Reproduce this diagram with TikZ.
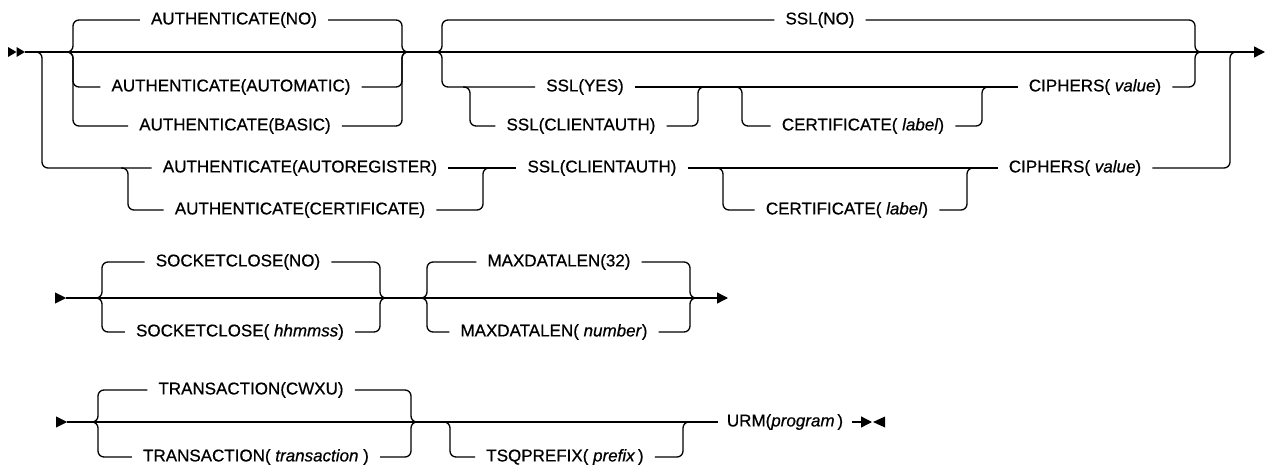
\documentclass[tikz,border=0pt]{standalone}
\usepackage{fontspec}
\setmainfont{Liberation Sans}[FakeBold=0.6]
\usetikzlibrary{arrows.meta}

\begin{document}
\begin{tikzpicture}[x=1pt, y=-1pt,
  rail/.style={line width=1.3pt, rounded corners=6pt},
  kw/.style={font=\fontsize{17}{20}\selectfont, inner xsep=11pt, inner ysep=0pt},
  tip/.style={-{Triangle[length=11pt,width=11pt]}}]
  \useasboundingbox (0,0) rectangle (1269,466);

  % row 1: AUTHENTICATE and SSL
  \fill (8,47) -- (16.5,52) -- (8,57) -- cycle;
  \fill (16.5,47) -- (25,52) -- (16.5,57) -- cycle;
  \coordinate (a0) at (25,52);
  \coordinate (a1) at (1265,52);
  \draw[rail,tip] (a0) -- (a1);

  \node[kw] (auNO)   at (234,20)  {AUTHENTICATE(NO)};
  \node[kw] (auAUTO) at (231,87)  {AUTHENTICATE(AUTOMATIC)};
  \node[kw] (auBAS)  at (235,126) {AUTHENTICATE(BASIC)};
  \node[kw] (auREG)  at (300,168) {AUTHENTICATE(AUTOREGISTER)};
  \node[kw] (auCERT) at (300,210) {AUTHENTICATE(CERTIFICATE)};

  \node[kw] (sslNO)  at (820,20)  {SSL(NO)};
  \node[kw] (sslYES) at (585,87)  {SSL(YES)};
  \node[kw] (sslCA)  at (581,126) {SSL(CLIENTAUTH)};
  \node[kw] (certA)  at (863,126) {CERTIFICATE( \textit{label}\/)};
  \node[kw] (cipA)   at (1095,87) {CIPHERS( \textit{value}\/)};
  \node[kw] (sslCB)  at (602,168) {SSL(CLIENTAUTH)};
  \node[kw] (certB)  at (847,210) {CERTIFICATE( \textit{label}\/)};
  \node[kw] (cipB)   at (1075,168) {CIPHERS( \textit{value}\/)};

  % authenticate choice
  \draw[rail] (66,52) -| (73,20) -- (auNO.west);
  \draw[rail] (auNO.east) -| (402,52) -- (409,52);
  \draw[rail] (66,52) -| (73,87) -- (auAUTO.west);
  \draw[rail] (auAUTO.east) -| (402,52) -- (409,52);
  \draw[rail] (66,52) -| (73,126) -- (auBAS.west);
  \draw[rail] (auBAS.east) -| (402,52) -- (409,52);

  % ssl choice
  \draw[rail] (435,52) -| (442,20) -- (sslNO.west);
  \draw[rail] (sslNO.east) -| (1195,52) -- (1202,52);
  \draw[rail] (435,52) -| (442,87) -- (sslYES.west);
  \draw[rail] (sslYES.east) -- (cipA.west);
  \draw[rail] (463,87) -| (470,126) -- (sslCA.west);
  \draw[rail] (sslCA.east) -| (698,87) -- (705,87);
  \draw[rail] (735,87) -| (742,126) -- (certA.west);
  \draw[rail] (certA.east) -| (982,87) -- (989,87);
  \draw[rail] (cipA.east) -| (1195,52) -- (1202,52);

  % lower branch
  \draw[rail] (35,52) -| (42,168) -- (auREG.west);
  \draw[rail] (auREG.east) -- (sslCB.west);
  \draw[rail] (121,168) -| (128,210) -- (auCERT.west);
  \draw[rail] (auCERT.east) -| (483,168) -- (490,168);
  \draw[rail] (sslCB.east) -- (cipB.west);
  \draw[rail] (716,168) -| (723,210) -- (certB.west);
  \draw[rail] (certB.east) -| (967,168) -- (974,168);
  \draw[rail] (cipB.east) -| (1230,52) -- (1237,52);

  % row 2: SOCKETCLOSE and MAXDATALEN
  \coordinate (b0) at (55,298);
  \coordinate (b1) at (66,298);
  \coordinate (b2) at (728,298);
  \draw[tip] (b0) -- (b1);
  \draw[rail,tip] (b1) -- (b2);

  \node[kw] (scNO) at (238,262) {SOCKETCLOSE(NO)};
  \node[kw] (scT)  at (240,332) {SOCKETCLOSE( \textit{hhmmss}\/)};
  \node[kw] (mdNO) at (559,262) {MAXDATALEN(32)};
  \node[kw] (mdN)  at (554,332) {MAXDATALEN( \textit{number}\/)};

  \draw[rail] (95,298) -| (102,262) -- (scNO.west);
  \draw[rail] (scNO.east) -| (380,298) -- (387,298);
  \draw[rail] (95,298) -| (102,332) -- (scT.west);
  \draw[rail] (scT.east) -| (380,298) -- (387,298);
  \draw[rail] (420,298) -| (427,262) -- (mdNO.west);
  \draw[rail] (mdNO.east) -| (690,298) -- (697,298);
  \draw[rail] (420,298) -| (427,332) -- (mdN.west);
  \draw[rail] (mdN.east) -| (690,298) -- (697,298);

  % row 3: TRANSACTION, TSQPREFIX and URM
  \coordinate (c0) at (56,422);
  \coordinate (c1) at (67,422);
  \coordinate (c2) at (872,422);
  \draw[tip] (c0) -- (c1);

  \node[kw] (trNO) at (251,390) {TRANSACTION(CWXU)};
  \node[kw] (trT)  at (256,457) {TRANSACTION( \textit{transaction} )};
  \node[kw] (tsq)  at (565,457) {TSQPREFIX( \textit{prefix}\,)};
  \node[kw, inner xsep=9pt] (urm) at (785,422) {URM(\textit{program}\,)};

  \draw[rail] (c1) -- (urm.west);
  \draw[rail,tip] (urm.east) -- (c2);
  \fill (885,416.5) -- (873,422) -- (885,427.5) -- cycle;

  \draw[rail] (91,422) -| (98,390) -- (trNO.west);
  \draw[rail] (trNO.east) -| (411,422) -- (418,422);
  \draw[rail] (91,422) -| (98,457) -- (trT.west);
  \draw[rail] (trT.east) -| (411,422) -- (418,422);
  \draw[rail] (443,422) -| (450,457) -- (tsq.west);
  \draw[rail] (tsq.east) -| (683,422) -- (690,422);
\end{tikzpicture}
\end{document}
